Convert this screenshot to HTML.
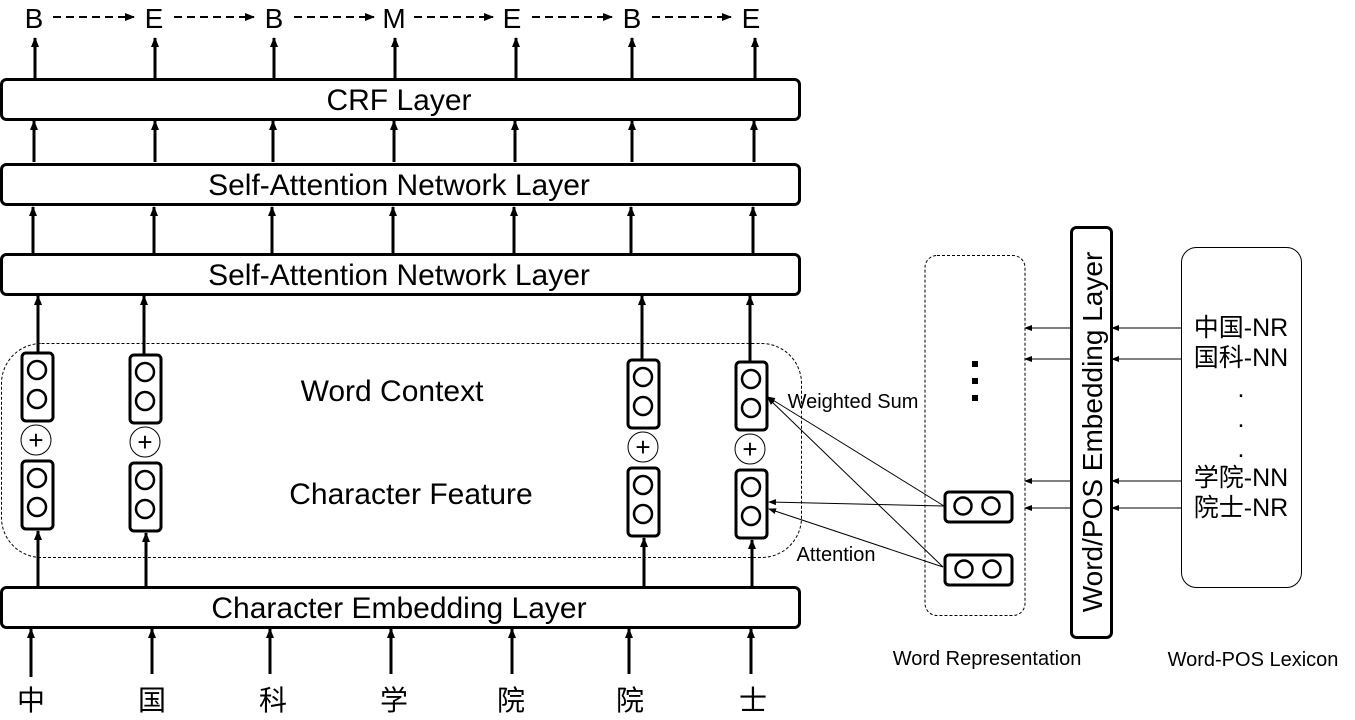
<!DOCTYPE html>
<html><head><style>body{margin:0;background:#fff}svg{display:block}text{font-family:"Liberation Sans","Noto Sans CJK SC",sans-serif;fill:#000}</style></head><body>
<svg width="1355" height="720" viewBox="0 0 1355 720">
<defs>
<marker id="a" markerWidth="10" markerHeight="10" refX="9" refY="5" orient="auto" markerUnits="userSpaceOnUse"><path d="M0,1 L10,5 L0,9 Z" fill="#000"/></marker>
<marker id="s" markerWidth="8" markerHeight="8" refX="7" refY="4" orient="auto" markerUnits="userSpaceOnUse"><path d="M0,1 L8,4 L0,7 Z" fill="#000"/></marker>
</defs>
<g font-size="28" text-anchor="middle">
<text x="34" y="28">B</text><text x="154" y="28">E</text><text x="274" y="28">B</text><text x="394" y="28">M</text><text x="512" y="28">E</text><text x="632" y="28">B</text><text x="751" y="28">E</text>
</g>
<g stroke="#000" stroke-width="2" stroke-dasharray="8,5" marker-end="url(#a)">
<line x1="53" y1="17" x2="134" y2="17"/><line x1="174" y1="17" x2="254" y2="17"/><line x1="294" y1="17" x2="374" y2="17"/><line x1="414" y1="17" x2="493" y2="17"/><line x1="532" y1="17" x2="612" y2="17"/><line x1="652" y1="17" x2="731" y2="17"/>
</g>
<g stroke="#000" stroke-width="3" marker-end="url(#a)">
<line x1="35" y1="79" x2="35" y2="38"/><line x1="155" y1="79" x2="155" y2="38"/><line x1="274" y1="79" x2="274" y2="38"/><line x1="395" y1="79" x2="395" y2="38"/><line x1="516" y1="79" x2="516" y2="38"/><line x1="632" y1="79" x2="632" y2="38"/><line x1="755" y1="79" x2="755" y2="38"/>
<line x1="34" y1="162" x2="34" y2="121"/><line x1="155" y1="162" x2="155" y2="121"/><line x1="273" y1="162" x2="273" y2="121"/><line x1="394" y1="162" x2="394" y2="121"/><line x1="515" y1="162" x2="515" y2="121"/><line x1="632" y1="162" x2="632" y2="121"/><line x1="754" y1="162" x2="754" y2="121"/>
<line x1="33" y1="256" x2="33" y2="207"/><line x1="154" y1="254" x2="154" y2="207"/><line x1="272" y1="254" x2="272" y2="207"/><line x1="393" y1="254" x2="393" y2="207"/><line x1="514" y1="254" x2="514" y2="207"/><line x1="631" y1="254" x2="631" y2="207"/><line x1="753" y1="254" x2="753" y2="207"/>
<line x1="31" y1="677" x2="31" y2="629"/><line x1="152" y1="674" x2="152" y2="629"/><line x1="270" y1="674" x2="270" y2="629"/><line x1="391" y1="674" x2="391" y2="629"/><line x1="512" y1="674" x2="512" y2="629"/><line x1="629" y1="674" x2="629" y2="629"/><line x1="751" y1="674" x2="751" y2="629"/>
<line x1="38" y1="353" x2="38" y2="296"/><line x1="144" y1="355" x2="144" y2="296"/><line x1="642" y1="360" x2="642" y2="296"/><line x1="750" y1="362" x2="750" y2="296"/>
<line x1="38" y1="587" x2="38" y2="531"/><line x1="146" y1="587" x2="146" y2="533"/><line x1="644" y1="587" x2="644" y2="538"/><line x1="752" y1="587" x2="752" y2="540"/>
</g>
<g fill="#fff" stroke="#000" stroke-width="3">
<rect x="1.5" y="79.5" width="798" height="40" rx="5"/>
<rect x="1.5" y="164.5" width="798" height="40" rx="5"/>
<rect x="1.5" y="254.5" width="798" height="40" rx="5"/>
<rect x="1.5" y="587.5" width="798" height="40" rx="5"/>
</g>
<g font-size="30" text-anchor="middle">
<text x="399" y="110">CRF Layer</text>
<text x="399" y="195">Self-Attention Network Layer</text>
<text x="399" y="285">Self-Attention Network Layer</text>
<text x="399" y="618">Character Embedding Layer</text>
</g>
<rect x="1.5" y="343.5" width="800" height="214" rx="40" fill="none" stroke="#000" stroke-width="1" stroke-dasharray="3,2"/>
<g fill="none" stroke="#000">
<g stroke-width="3">
<rect x="22" y="353" width="31" height="68" rx="4"/><rect x="130" y="355" width="31" height="68" rx="4"/><rect x="628" y="360" width="31" height="68" rx="4"/><rect x="736" y="362" width="31" height="68" rx="4"/>
<rect x="22" y="461" width="31" height="68" rx="4"/><rect x="130" y="463" width="31" height="68" rx="4"/><rect x="628" y="468" width="31" height="68" rx="4"/><rect x="736" y="470" width="31" height="68" rx="4"/>
</g>
<g stroke-width="2.5">
<circle cx="37" cy="370" r="9"/><circle cx="37" cy="399" r="9"/><circle cx="145" cy="372" r="9"/><circle cx="145" cy="401" r="9"/><circle cx="643" cy="377" r="9"/><circle cx="643" cy="406" r="9"/><circle cx="751" cy="379" r="9"/><circle cx="751" cy="408" r="9"/>
<circle cx="37" cy="478" r="9"/><circle cx="37" cy="507" r="9"/><circle cx="145" cy="480" r="9"/><circle cx="145" cy="509" r="9"/><circle cx="643" cy="485" r="9"/><circle cx="643" cy="514" r="9"/><circle cx="751" cy="487" r="9"/><circle cx="751" cy="516" r="9"/>
</g>
<g stroke-width="1">
<circle cx="36" cy="440" r="15"/><circle cx="145" cy="442" r="15"/><circle cx="643" cy="447" r="15"/><circle cx="750" cy="449" r="15"/>
</g>
</g>
<g font-size="26" text-anchor="middle">
<text x="36" y="449">+</text><text x="145" y="451">+</text><text x="643" y="456">+</text><text x="750" y="458">+</text>
</g>
<text x="392" y="401" font-size="30" text-anchor="middle">Word Context</text>
<text x="411" y="504" font-size="30" text-anchor="middle">Character Feature</text>
<g font-size="20" text-anchor="middle">
<text x="853" y="408">Weighted Sum</text>
<text x="836" y="561">Attention</text>
<text x="987" y="665">Word Representation</text>
<text x="1253" y="666">Word-POS Lexicon</text>
</g>
<g stroke="#000" stroke-width="1" marker-end="url(#s)">
<line x1="944" y1="506" x2="768" y2="397"/><line x1="943" y1="567" x2="768" y2="398"/>
<line x1="944" y1="506" x2="769" y2="502"/><line x1="943" y1="567" x2="769" y2="509"/>
<line x1="1071" y1="328" x2="1025" y2="328"/><line x1="1071" y1="359" x2="1025" y2="359"/><line x1="1071" y1="481" x2="1025" y2="481"/><line x1="1071" y1="508" x2="1025" y2="508"/>
<line x1="1181" y1="328" x2="1112" y2="328"/><line x1="1181" y1="359" x2="1112" y2="359"/><line x1="1181" y1="481" x2="1112" y2="481"/><line x1="1181" y1="508" x2="1112" y2="508"/>
</g>
<rect x="925" y="255.5" width="100" height="360" rx="12" fill="none" stroke="#000" stroke-width="1" stroke-dasharray="3,2"/>
<g fill="none" stroke="#000" stroke-width="3">
<rect x="945" y="492" width="67" height="30" rx="4"/><rect x="945" y="555" width="67" height="30" rx="4"/>
</g>
<g fill="none" stroke="#000" stroke-width="2.5">
<circle cx="963" cy="506" r="8.5"/><circle cx="991" cy="506" r="8.5"/><circle cx="964" cy="569" r="8.5"/><circle cx="992" cy="569" r="8.5"/>
</g>
<rect x="972" y="361" width="6" height="6"/><rect x="972" y="378" width="6" height="6"/><rect x="972" y="395" width="6" height="6"/>
<rect x="1071.5" y="227.5" width="40" height="410" rx="5" fill="none" stroke="#000" stroke-width="3"/>
<text transform="translate(1102,432) rotate(-90)" font-size="28" text-anchor="middle">Word/POS Embedding Layer</text>
<rect x="1181.5" y="247.5" width="120" height="340" rx="15" fill="none" stroke="#000" stroke-width="1"/>
<g font-size="25" text-anchor="middle">
<text x="1241" y="336">中国-NR</text><text x="1241" y="366">国科-NN</text>
<text x="1241" y="397">.</text><text x="1241" y="427">.</text><text x="1241" y="457">.</text>
<text x="1241" y="486">学院-NN</text><text x="1241" y="516">院士-NR</text>
</g>
<g font-size="28" text-anchor="middle">
<text x="31" y="710">中</text><text x="152" y="710">国</text><text x="273" y="710">科</text><text x="394" y="710">学</text><text x="511" y="710">院</text><text x="630" y="710">院</text><text x="753" y="710">士</text>
</g>
</svg>
</body></html>
